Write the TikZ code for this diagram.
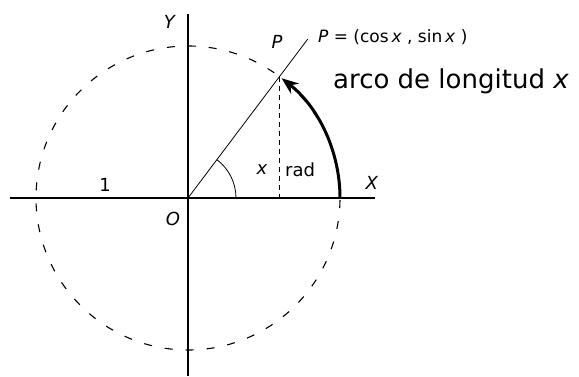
\documentclass[tikz,border=0pt]{standalone}
\usepackage{fontspec}
\setmainfont{DejaVu Sans}
\usetikzlibrary{arrows.meta}
\tikzset{
  every picture/.style={line join=round, >=Stealth},
  axis/.style={line width=1.4pt},
  circ/.style={line width=1.1pt, dash pattern=on 8pt off 13pt},
  ray/.style={line width=0.8pt},
  drop/.style={line width=1.1pt, dash pattern=on 5pt off 4pt},
  arco/.style={line width=3pt, -{Stealth[length=17pt,width=13pt]}},
  lbl/.style={font=\fontsize{18}{20}\selectfont, inner sep=0pt},
  big/.style={font=\fontsize{26}{30}\selectfont, inner sep=0pt},
  small/.style={font=\fontsize{17}{20}\selectfont, inner sep=0pt},
}

\begin{document}
\begin{tikzpicture}[x=1pt,y=1pt]
\useasboundingbox (-188,-178) rectangle (391,198);
% points
\coordinate (O) at (0,0);
\coordinate (A) at (152,0);
\coordinate (P) at (53:152);
\coordinate (R) at (53:199);
\coordinate (F) at (P |- O);
\coordinate (xl) at (-178,0);
\coordinate (xr) at (187,0);
\coordinate (yb) at (0,-178);
\coordinate (yt) at (0,184);
% axes and circle
\draw[axis] (xl) -- (xr);
\draw[axis] (yb) -- (yt);
\draw[circ] (O) circle (152);
\draw[ray] (O) -- (R);
\draw[drop] (P) -- (F);
\draw[ray] (48,0) arc[start angle=0, end angle=53, radius=48];
\draw[arco] (A) arc[start angle=0, end angle=52, radius=152];
% labels
\node[lbl] (ly) at (-18,176) {\textit{Y}};
\node[lbl] (lx) at (184,15) {\textit{X}};
\node[lbl] (lo) at (-15,-21) {\textit{O}};
\node[lbl] (lp) at (89,156) {\textit{P}};
\node[lbl] (one) at (-83,13) {1};
\node[lbl] (ang) at (74,28) {\textit{x}};
\node[lbl, anchor=base west] (rad) at (97,22) {rad};
\node[small, anchor=west] (coords) at (130,161) {\textit{P} = (cos\,\textit{x} , sin\,\textit{x} )};
\node[big, anchor=base west] (arc) at (145,110) {arco de longitud \textit{x}};
\end{tikzpicture}
\end{document}
